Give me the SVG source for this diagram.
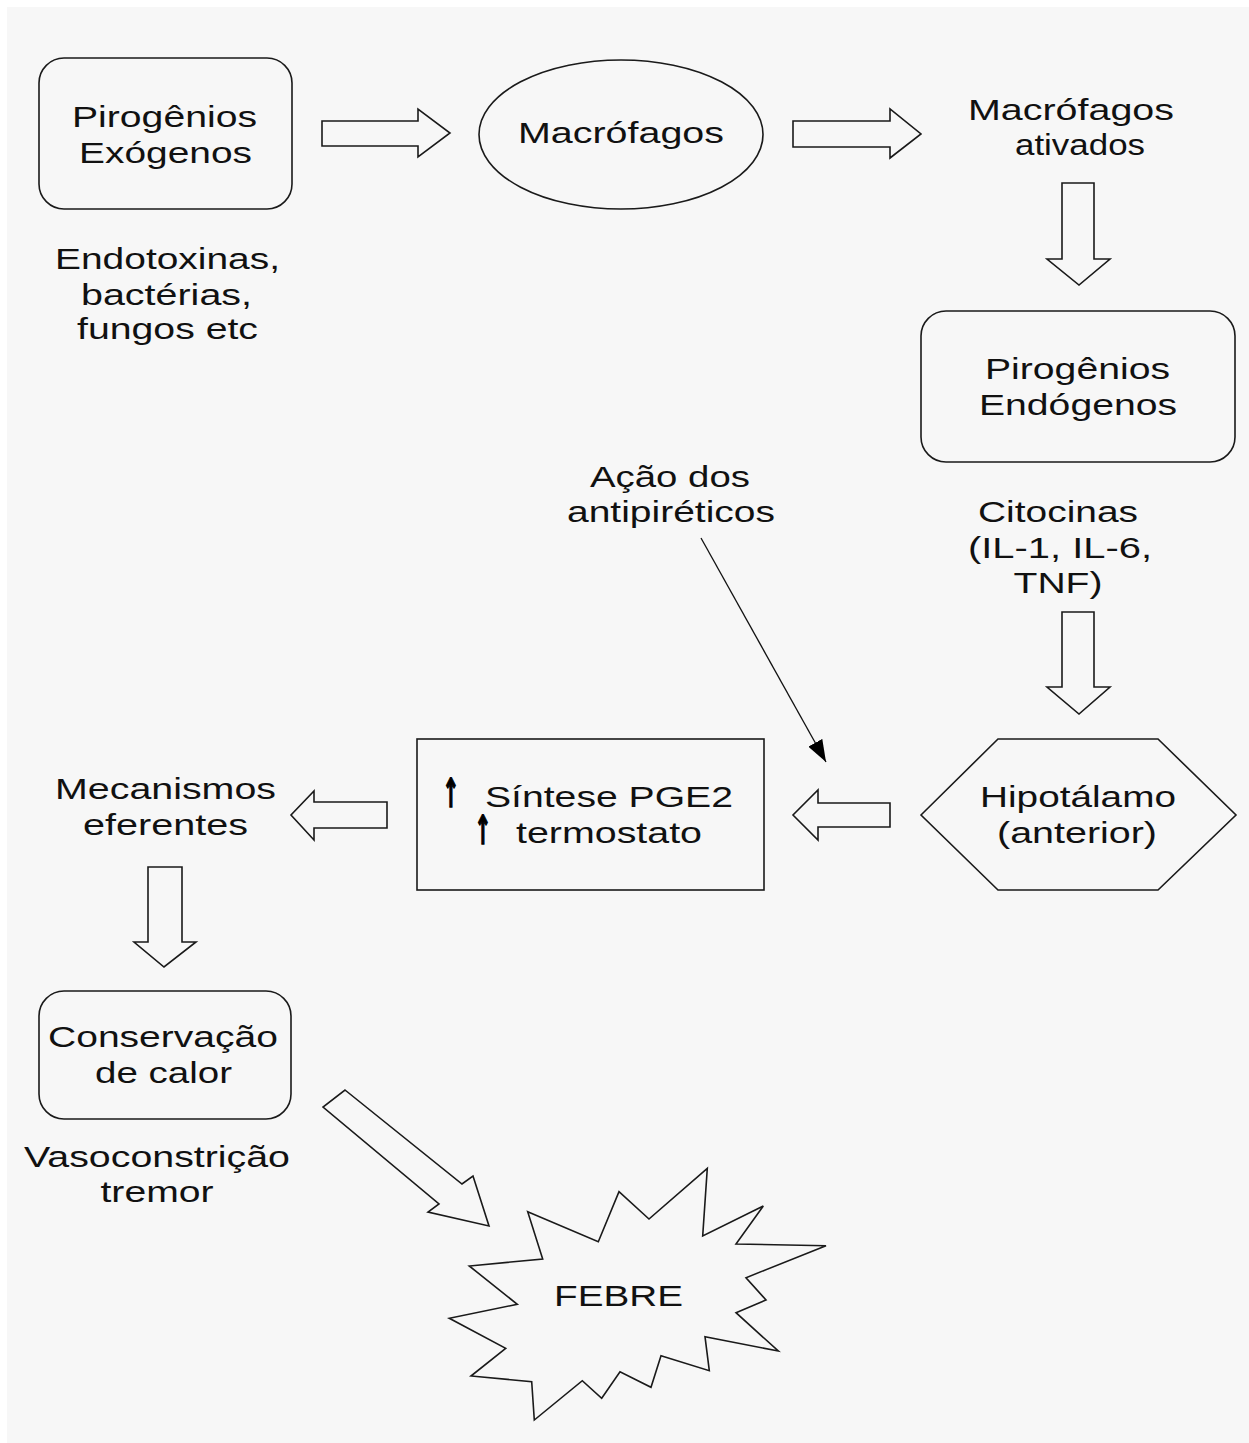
<svg xmlns="http://www.w3.org/2000/svg" width="1249" height="1443" viewBox="0 0 1249 1443">
<style>
  .shape { fill: none; stroke: #1a1a1a; stroke-width: 1.6; stroke-linejoin: miter; }
  .blk { fill: none; stroke: #1a1a1a; stroke-width: 1.6; stroke-linejoin: miter; }
  .t { font-family: "Liberation Sans", Arial, sans-serif; font-size: 29px; fill: #111; text-anchor: middle; }
  .up { font-family: "DejaVu Sans", sans-serif; font-size: 40px; font-weight: bold; fill: #000; stroke: #000; stroke-width: 1.6; text-anchor: middle; }
  .thin { stroke: #111; stroke-width: 1.3; fill: none; }
</style>
<defs>
  <marker id="ah" viewBox="0 0 22 16" refX="22" refY="8" markerWidth="22" markerHeight="16" markerUnits="userSpaceOnUse" orient="auto">
    <path d="M0,0 L22,8 L0,16 Z" fill="#000"/>
  </marker>
</defs>
<rect x="0" y="0" width="1249" height="1443" fill="#ffffff"/>
<rect x="7" y="7" width="1242" height="1436" fill="#f7f7f7"/>

<g id="connectors">
  <polygon class="blk" points="322,121 418,121 418,109 450,133 418,157 418,146 322,146"/>
  <polygon class="blk" points="793,121 890,121 890,109 921,134 890,158 890,147 793,147"/>
  <polygon class="blk" points="1062,183 1094,183 1094,259 1110,259 1079,285 1047,259 1062,259"/>
  <polygon class="blk" points="1062,612 1094,612 1094,687 1110,687 1079,714 1047,687 1062,687"/>
  <polygon class="blk" points="890,803 890,827 818,827 818,840 793,815 818,790 818,803"/>
  <polygon class="blk" points="387,802 387,828 314,828 314,840 291,815 314,791 314,802"/>
  <polygon class="blk" points="148,867 182,867 182,942 196,942 164,967 134,942 148,942"/>
  <polygon class="blk" points="345,1090 462,1184 473,1176 489,1226 428,1212 439,1204 323,1107"/>
  <line class="thin" x1="701" y1="538" x2="826" y2="762" marker-end="url(#ah)"/>
</g>

<g id="pirogenios-exogenos">
  <rect class="shape" x="39" y="58" width="253" height="151" rx="25" ry="25"/>
  <text class="t" x="164.5" y="127" textLength="185" lengthAdjust="spacingAndGlyphs">Pirogênios</text>
  <text class="t" x="165.5" y="163" textLength="173" lengthAdjust="spacingAndGlyphs">Exógenos</text>
</g>

<g id="endotoxinas">
  <text class="t" x="167.5" y="269" textLength="225" lengthAdjust="spacingAndGlyphs">Endotoxinas,</text>
  <text class="t" x="166.5" y="305" textLength="171" lengthAdjust="spacingAndGlyphs">bactérias,</text>
  <text class="t" x="167.5" y="339" textLength="181" lengthAdjust="spacingAndGlyphs">fungos etc</text>
</g>

<g id="macrofagos">
  <ellipse class="shape" cx="621" cy="134.5" rx="142" ry="74.5"/>
  <text class="t" x="621" y="143" textLength="206" lengthAdjust="spacingAndGlyphs">Macrófagos</text>
</g>

<g id="macrofagos-ativados">
  <text class="t" x="1071" y="120" textLength="206" lengthAdjust="spacingAndGlyphs">Macrófagos</text>
  <text class="t" x="1080" y="155" textLength="130" lengthAdjust="spacingAndGlyphs">ativados</text>
</g>

<g id="pirogenios-endogenos">
  <rect class="shape" x="921" y="311" width="314" height="151" rx="25" ry="25"/>
  <text class="t" x="1077.5" y="379" textLength="185" lengthAdjust="spacingAndGlyphs">Pirogênios</text>
  <text class="t" x="1078" y="415" textLength="198" lengthAdjust="spacingAndGlyphs">Endógenos</text>
</g>

<g id="citocinas">
  <text class="t" x="1058" y="522" textLength="160" lengthAdjust="spacingAndGlyphs">Citocinas</text>
  <text class="t" x="1060" y="558" textLength="184" lengthAdjust="spacingAndGlyphs">(IL-1, IL-6,</text>
  <text class="t" x="1058" y="593" textLength="89" lengthAdjust="spacingAndGlyphs">TNF)</text>
</g>

<g id="antipireticos">
  <text class="t" x="670" y="487" textLength="160" lengthAdjust="spacingAndGlyphs">Ação dos</text>
  <text class="t" x="671" y="522" textLength="208" lengthAdjust="spacingAndGlyphs">antipiréticos</text>
</g>

<g id="hipotalamo">
  <polygon class="shape" points="921,815 998,739 1158,739 1236,815 1158,890 998,890"/>
  <text class="t" x="1078" y="807" textLength="196" lengthAdjust="spacingAndGlyphs">Hipotálamo</text>
  <text class="t" x="1077" y="843" textLength="160" lengthAdjust="spacingAndGlyphs">(anterior)</text>
</g>

<g id="sintese-pge2">
  <rect class="shape" x="417" y="739" width="347" height="151"/>
  <text class="up" transform="translate(451,807) scale(0.5,1)" x="0" y="0">↑</text>
  <text class="t" x="609" y="807" textLength="248" lengthAdjust="spacingAndGlyphs">Síntese PGE2</text>
  <text class="up" transform="translate(483,844) scale(0.5,1)" x="0" y="0">↑</text>
  <text class="t" x="609" y="843" textLength="186" lengthAdjust="spacingAndGlyphs">termostato</text>
</g>

<g id="mecanismos-eferentes">
  <text class="t" x="165.5" y="799" textLength="221" lengthAdjust="spacingAndGlyphs">Mecanismos</text>
  <text class="t" x="165.5" y="835" textLength="165" lengthAdjust="spacingAndGlyphs">eferentes</text>
</g>

<g id="conservacao-calor">
  <rect class="shape" x="39" y="991" width="252" height="128" rx="25" ry="25"/>
  <text class="t" x="163" y="1047" textLength="230" lengthAdjust="spacingAndGlyphs">Conservação</text>
  <text class="t" x="163.5" y="1083" textLength="137" lengthAdjust="spacingAndGlyphs">de calor</text>
</g>

<g id="vasoconstricao">
  <text class="t" x="157" y="1167" textLength="266" lengthAdjust="spacingAndGlyphs">Vasoconstrição</text>
  <text class="t" x="157" y="1202" textLength="113" lengthAdjust="spacingAndGlyphs">tremor</text>
</g>

<g id="febre">
  <polygon class="shape" points="527.7,1211.7 598.3,1241.7 619,1191.7 649,1219 707.3,1168.3 702.7,1236 763.3,1206 736,1244 826,1245.7 746,1277.7 766,1300 736,1312.7 778.3,1351 705,1336.7 709.3,1370.7 661,1355.7 651,1387.3 620,1371.7 601.7,1398.3 582.3,1380.7 534.3,1420 531.7,1381.7 471,1376 505.7,1348.3 449.3,1318.3 517.3,1304.3 469.3,1266 542.7,1259"/>
  <text class="t" x="618.5" y="1306" textLength="129" lengthAdjust="spacingAndGlyphs">FEBRE</text>
</g>
</svg>
